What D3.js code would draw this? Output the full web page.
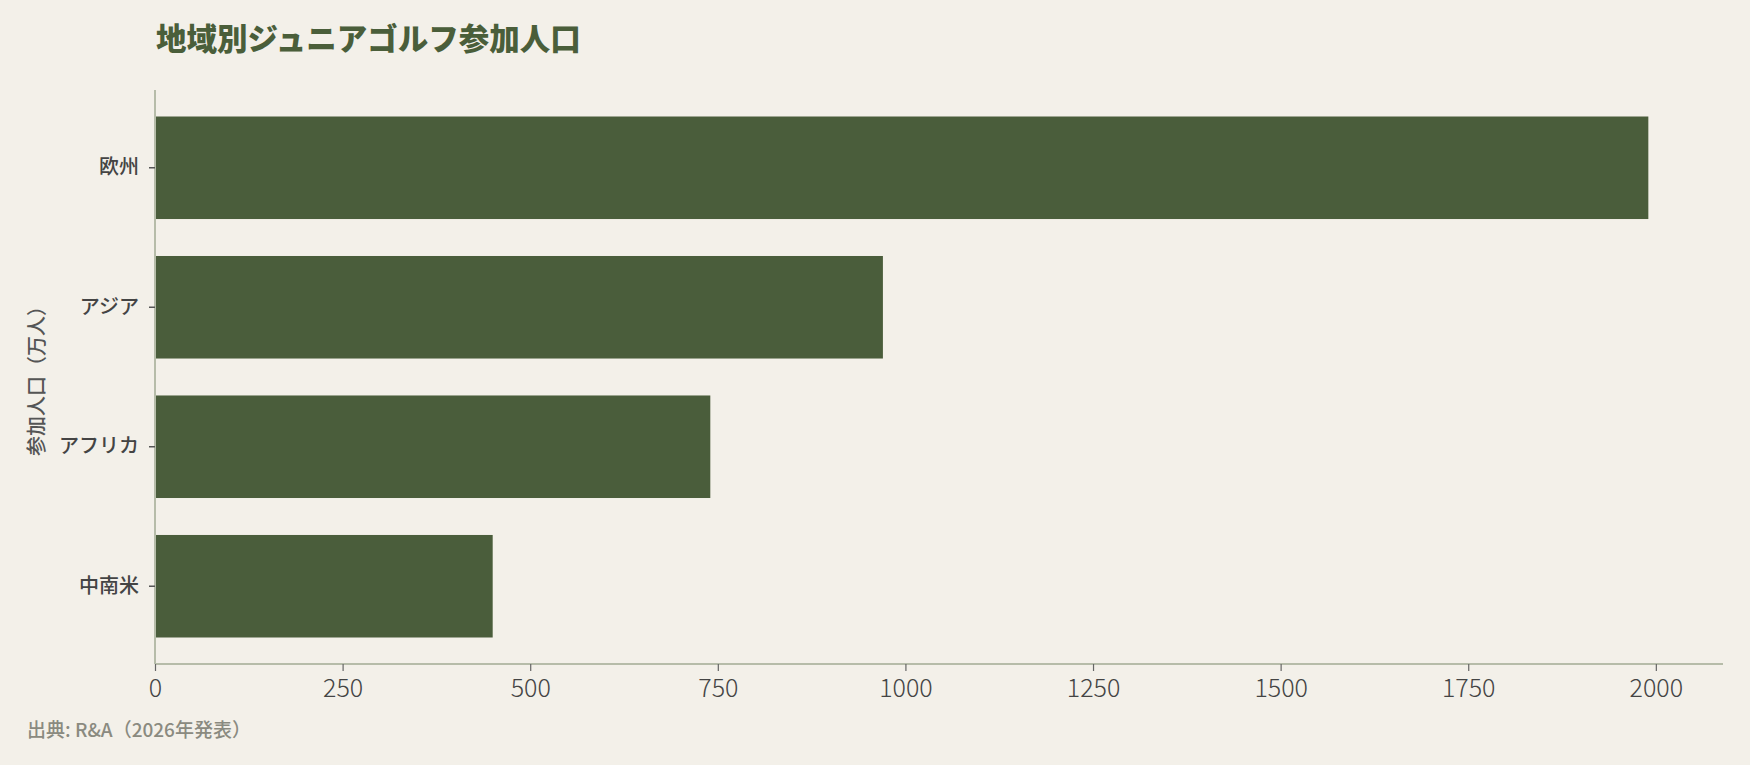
<!DOCTYPE html>
<html>
<head>
<meta charset="utf-8">
<script src="https://cdn.jsdelivr.net/npm/d3@7"></script>
<style>
  body { margin: 0; background: #f3f0e9; }
  svg { display: block; font-family: "Noto Sans CJK JP", "Noto Sans", sans-serif; }
</style>
</head>
<body>
<svg width="1750" height="765"></svg>
<script>
const regions = ['欧州', 'アジア', 'アフリカ', '中南米']
const players = [1990, 970, 740, 450]
const xTicks = [0, 250, 500, 750, 1000, 1250, 1500, 1750, 2000]

const svg = d3.select('svg')
const width = +svg.attr('width')
const height = +svg.attr('height')

const margin = { top: 90, right: 27, bottom: 101, left: 155 }
const innerWidth = width - margin.left - margin.right
const innerHeight = height - margin.top - margin.bottom

const data = regions.map((r, i) => ({ name: r, value: players[i] }))

const xScale = d3.scaleLinear()
    .domain([0, d3.max(players) * 1.05])
    .range([0, innerWidth])

const yScale = d3.scaleBand()
    .domain(regions)
    .range([0, innerHeight])
    .paddingInner(0.265)
    .paddingOuter(0.19)

svg.append('rect').attr('width', width).attr('height', height).attr('fill', '#f3f0e9')

const g = svg.append('g')
    .attr('transform', `translate(${margin.left}, ${margin.top})`)

g.selectAll('rect.bar').data(data)
    .enter().append('rect')
        .attr('class', 'bar')
        .attr('x', 1)
        .attr('y', d => yScale(d.name))
        .attr('width', d => xScale(d.value) - 1)
        .attr('height', yScale.bandwidth())
        .attr('fill', '#4a5d3b')

// y axis
const yAxis = g.append('g')
    .call(d3.axisLeft(yScale).tickSize(6).tickPadding(10))
yAxis.attr('font-family', '"Noto Sans CJK JP", sans-serif').attr('font-size', 20)
yAxis.select('.domain').attr('stroke', '#b6bca9').attr('stroke-width', 2)
    .attr('d', `M0,0V${innerHeight}`)
yAxis.selectAll('.tick line').attr('stroke', '#555').attr('stroke-width', 1.5)
yAxis.selectAll('.tick text')
    .attr('fill', '#444')
    .attr('font-weight', 500)

// x axis
const xAxis = g.append('g')
    .attr('transform', `translate(0, ${innerHeight})`)
    .call(d3.axisBottom(xScale).tickValues(xTicks).tickFormat(d3.format('d')).tickSize(7).tickPadding(8))
xAxis.attr('font-family', '"Noto Sans CJK JP", sans-serif').attr('font-size', 25)
xAxis.select('.domain').attr('stroke', '#b6bca9').attr('stroke-width', 2)
    .attr('d', `M0,0H${innerWidth}`)
xAxis.selectAll('.tick line').attr('stroke', '#666').attr('stroke-width', 1.2)
xAxis.selectAll('.tick text')
    .attr('fill', '#444')
    .attr('font-weight', 300)

// title
svg.append('text')
    .attr('x', 156)
    .attr('y', 50)
    .attr('fill', '#4a5e3a')
    .attr('font-size', 30.5)
    .attr('font-weight', 900)
    .text('地域別ジュニアゴルフ参加人口')

// y axis title
svg.append('text')
    .attr('transform', `translate(44, ${margin.top + innerHeight / 2 - 1}) rotate(-90)`)
    .attr('text-anchor', 'middle')
    .attr('fill', '#555')
    .attr('font-size', 20)
    .attr('font-weight', 500)
    .text('参加人口（万人）')

// source
svg.append('text')
    .attr('x', 27)
    .attr('y', 737)
    .attr('fill', '#8a8a80')
    .attr('font-size', 19)
    .attr('font-weight', 500)
    .text('出典: R&A（2026年発表）')
</script>
</body>
</html>
